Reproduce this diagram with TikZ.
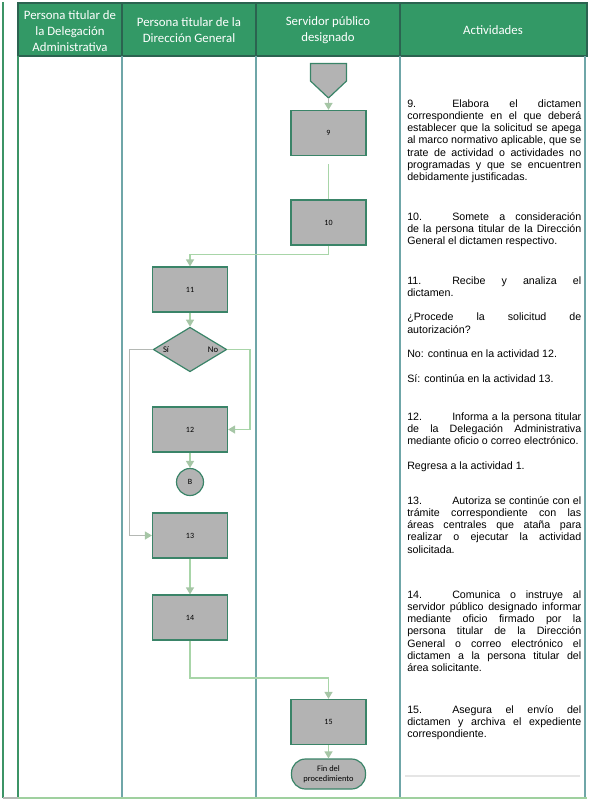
\documentclass[tikz,border=0pt]{standalone}
\usepackage{fontspec}
\setmainfont{Liberation Sans}
\newfontfamily\calfont{Carlito}
\usetikzlibrary{arrows.meta,shapes.geometric}
\newlength\px
\setlength\px{0.75pt}
\setlength\parindent{0pt}
\definecolor{hdrgreen}{HTML}{339966}
\definecolor{hdrline}{HTML}{2B6350}
\definecolor{laneteal}{HTML}{6FA6A8}
\definecolor{laneg}{HTML}{3C9466}
\definecolor{bottomg}{HTML}{9FD09F}
\definecolor{boxfill}{HTML}{B3B3B3}
\definecolor{boxline}{HTML}{3A8468}
\definecolor{connc}{HTML}{A8D5A8}
\definecolor{conngrey}{HTML}{B4B8B4}
\definecolor{arrowc}{HTML}{A6C6A6}
\begin{document}
\begin{tikzpicture}[x=0.75pt,y=-0.75pt,
  proc/.style={draw=boxline,fill=boxfill,line width=0.9pt,minimum width=56.25pt,minimum height=33.75pt,inner sep=0pt,font=\calfont\fontsize{6}{7}\selectfont},
  dec/.style={diamond,draw=boxline,fill=boxfill,line width=0.9pt,minimum width=55.1pt,minimum height=33.4pt,inner sep=0pt,aspect=1.65},
  circ/.style={circle,draw=boxline,fill=boxfill,line width=0.9pt,minimum size=20.25pt,inner sep=0pt,font=\calfont\fontsize{6}{7}\selectfont},
  term/.style={rectangle,rounded corners=10.5pt,draw=boxline,fill=boxfill,line width=0.9pt,minimum width=55.5pt,minimum height=22.5pt,inner sep=0pt,align=center,font=\calfont\fontsize{6.3}{7.7}\selectfont},
  lab/.style={inner sep=0pt,font=\calfont\fontsize{6.5}{7.5}\selectfont},
  hdr/.style={text=white,align=center,inner sep=0pt,font=\calfont\fontsize{9.6}{12.2}\selectfont},
  act/.style={anchor=north west,text width=130.5pt,align=justify,inner sep=0pt,font=\fontsize{8}{9.2}\selectfont},
  conn/.style={draw=connc,line width=1.1pt},
  conng/.style={draw=conngrey,line width=1.1pt},
  arr/.style={-{Triangle[length=5.25pt,width=6pt,color=arrowc]}},
  lane/.style={draw=laneteal,line width=1.5pt},
]
\useasboundingbox (0,0) rectangle (590,803);
% header
\fill[hdrgreen] (18,3) rectangle (587,56);
\draw[hdrline,line width=1.1pt] (18,3) rectangle (587,56);
\foreach \xx in {122,256,400} \draw[hdrline,line width=1.1pt] (\xx,3) -- (\xx,56);
% lanes
\draw[laneg,line width=1.1pt] (3,2) -- (3,798);
\draw[laneg,line width=1.5pt] (18,56) -- (18,798);
\foreach \xx in {122,256,400,585} \draw[lane] (\xx,56) -- (\xx,798);
\draw[conngrey,line width=1.5pt] (3,798) -- (18,798);
\draw[bottomg,line width=1.5pt] (18,798) -- (587,798);
\draw[black!10,line width=1.5pt] (405,776) -- (580,776);
% header texts
\node[hdr] (h1) at (70,31) {Persona titular de\\la Delegación\\Administrativa};
\node[hdr] (h2) at (189,30) {Persona titular de la\\Dirección General};
\node[hdr] (h3) at (328,30) {Servidor público\\designado};
\node[hdr] (h4) at (493,30) {Actividades};
% shapes
\draw[draw=boxline,fill=boxfill,line width=0.9pt] (310.5,63.5) -- (346.5,63.5) -- (346.5,81) -- (328.5,98) -- (310.5,81) -- cycle;
\coordinate (op) at (328.5,98);
\node[proc] (b9) at (328.5,133) {9};
\node[proc] (b10) at (328.5,222.5) {10};
\node[proc] (b11) at (190,289.5) {11};
\node[dec] (d) at (190,349.5) {};
\node[lab] (si) at (166,349.5) {Sí};
\node[lab] (no) at (213,349.5) {No};
\node[proc] (b12) at (190,429.5) {12};
\node[circ] (B) at (190,482) {B};
\node[proc] (b13) at (190,535.5) {13};
\node[proc] (b14) at (190,617.5) {14};
\node[proc] (b15) at (328.5,722) {15};
\node[term] (fin) at (328.5,774) {Fin del\\procedimiento};
% connectors
\draw[conng,arr] (op) -- (b9.north);
\draw[conn] ([yshift=-6pt]b9.south) -- (b10.north);
\draw[conn,arr] (b10.south) -- ++(0,9) -| (b11.north);
\draw[conn,arr] (b11.south) -- (d.north);
\draw[conng,arr] (d.west) -- ++(-23,0) |- (b13.west);
\draw[conn,arr] (d.east) -- ++(22.5,0) |- (b12.east);
\draw[conn,arr] (b12.south) -- (B.north);
\draw[conn,arr] (b13.south) -- (b14.north);
\draw[conn,arr] (b14.south) -- ++(0,37.5) -| (b15.north);
\draw[conn,arr] (b15.south) -- (fin.north);
% activity texts
\node[act] (t9) at (407,98.2) {\strut\makebox[33.75pt][l]{9.}Elabora el dictamen\linebreak
correspondiente en el que deberá\linebreak
establecer que la solicitud se apega\linebreak
al marco normativo aplicable, que se\linebreak
trate de actividad o actividades no\linebreak
programadas y que se encuentren\linebreak
debidamente justificadas.};
\node[act] (t10) at (407,211.2) {\strut\makebox[33.75pt][l]{10.}Somete a consideración\linebreak
de la persona titular de la Dirección\linebreak
General el dictamen respectivo.};
\node[act] (t11) at (407,275.2) {\strut\makebox[33.75pt][l]{11.}Recibe y analiza el\linebreak
dictamen.\par\vspace{9.2pt}
¿Procede la solicitud de\linebreak
autorización?\par\vspace{9.2pt}
No: continua en la actividad 12.\par\vspace{9.2pt}
Sí: continúa en la actividad 13.};
\node[act] (t12) at (407,411.2) {\strut\makebox[33.75pt][l]{12.}Informa a la persona titular\linebreak
de la Delegación Administrativa\linebreak
mediante oficio o correo electrónico.\par\vspace{9.2pt}
Regresa a la actividad 1.};
\node[act] (t13) at (407,495.2) {\strut\makebox[33.75pt][l]{13.}Autoriza se continúe con el\linebreak
trámite correspondiente con las\linebreak
áreas centrales que ataña para\linebreak
realizar o ejecutar la actividad\linebreak
solicitada.};
\node[act] (t14) at (407,589.2) {\strut\makebox[33.75pt][l]{14.}Comunica o instruye al\linebreak
servidor público designado informar\linebreak
mediante oficio firmado por la\linebreak
persona titular de la Dirección\linebreak
General o correo electrónico el\linebreak
dictamen a la persona titular del\linebreak
área solicitante.};
\node[act] (t15) at (407,704.2) {\strut\makebox[33.75pt][l]{15.}Asegura el envío del\linebreak
dictamen y archiva el expediente\linebreak
correspondiente.};
\end{tikzpicture}
\end{document}
